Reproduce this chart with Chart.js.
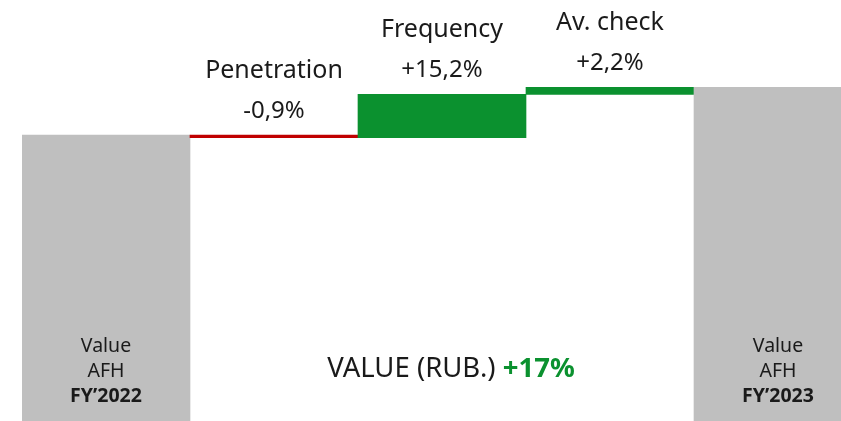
<!DOCTYPE html>
<html>
<head>
<meta charset="utf-8">
<script src="https://cdn.jsdelivr.net/npm/chart.js@4"></script>
<style>
  html, body { margin: 0; padding: 0; background: #fff; overflow: hidden; }
  #wrap { width: 841px; height: 421px; overflow: hidden; }
</style>
</head>
<body>
<div id="wrap">
  <canvas id="waterfall" width="862" height="421"></canvas>
</div>
<script>
// waterfall data
const categories = ["FY’2022", "Penetration", "Frequency", "Av. check", "FY’2023"];
const barFrom = [0, 100, 99.1, 114.2, 0];
const barTo = [100, 99.1, 114.2, 116.7, 116.7];
const changeLabels = ["", "-0,9%", "+15,2%", "+2,2%", ""];
const totalLines = ["Value", "AFH"];
const totalCaption = "VALUE (RUB.) ";
const totalChange = "+17%";

const GRAY = "#BFBFBF";
const RED = "#C00000";
const GREEN = "#0B912F";
const TEXT = "#1a1a1a";
const FONT = '"Noto Sans", "Open Sans", sans-serif';

const barColors = barFrom.map((from, i) => {
    if (from === 0) return GRAY;
    return barTo[i] < from ? RED : GREEN;
});

const labelPlugin = {
    id: "waterfallLabels",
    afterDatasetsDraw(chart) {
        const ctx = chart.ctx;
        const meta = chart.getDatasetMeta(0);
        const bottom = chart.chartArea.bottom;
        ctx.save();
        ctx.textAlign = "center";
        ctx.textBaseline = "alphabetic";
        ctx.fillStyle = TEXT;

        meta.data.forEach((bar, i) => {
            const top = Math.min(bar.y, bar.base);
            if (changeLabels[i]) {
                ctx.font = "24px " + FONT;
                ctx.fillText(changeLabels[i], bar.x, top - 17);
                ctx.font = "25px " + FONT;
                ctx.fillText(categories[i], bar.x, top - 57);
            } else {
                ctx.font = "19.5px " + FONT;
                ctx.fillText(totalLines[0], bar.x, bottom - 69);
                ctx.fillText(totalLines[1], bar.x, bottom - 44);
                ctx.font = "bold 19.5px " + FONT;
                ctx.fillText(categories[i], bar.x, bottom - 19);
            }
        });

        // caption in the middle
        const cx = chart.scales.x.getPixelForValue(2) + 9;
        ctx.font = "27.5px " + FONT;
        const w1 = ctx.measureText(totalCaption).width;
        ctx.font = "bold 27.5px " + FONT;
        const w2 = ctx.measureText(totalChange).width;
        const left = cx - (w1 + w2) / 2;
        ctx.textAlign = "left";
        ctx.font = "27.5px " + FONT;
        ctx.fillStyle = TEXT;
        ctx.fillText(totalCaption, left, bottom - 44);
        ctx.font = "bold 27.5px " + FONT;
        ctx.fillStyle = GREEN;
        ctx.fillText(totalChange, left + w1, bottom - 44);
        ctx.restore();
    }
};

new Chart(document.getElementById("waterfall"), {
    type: "bar",
    data: {
        labels: categories,
        datasets: [{
            data: barFrom.map((from, i) => [from, barTo[i]]),
            backgroundColor: barColors,
            borderWidth: 0,
            borderSkipped: false,
            barPercentage: 1,
            categoryPercentage: 1
        }]
    },
    options: {
        responsive: false,
        animation: false,
        layout: { padding: { left: 22, right: 0, top: 0, bottom: 0 } },
        plugins: {
            legend: { display: false },
            tooltip: { enabled: false }
        },
        scales: {
            x: { display: false },
            y: { display: false, min: 0, max: 147.2 }
        }
    },
    plugins: [labelPlugin]
});
</script>
</body>
</html>
